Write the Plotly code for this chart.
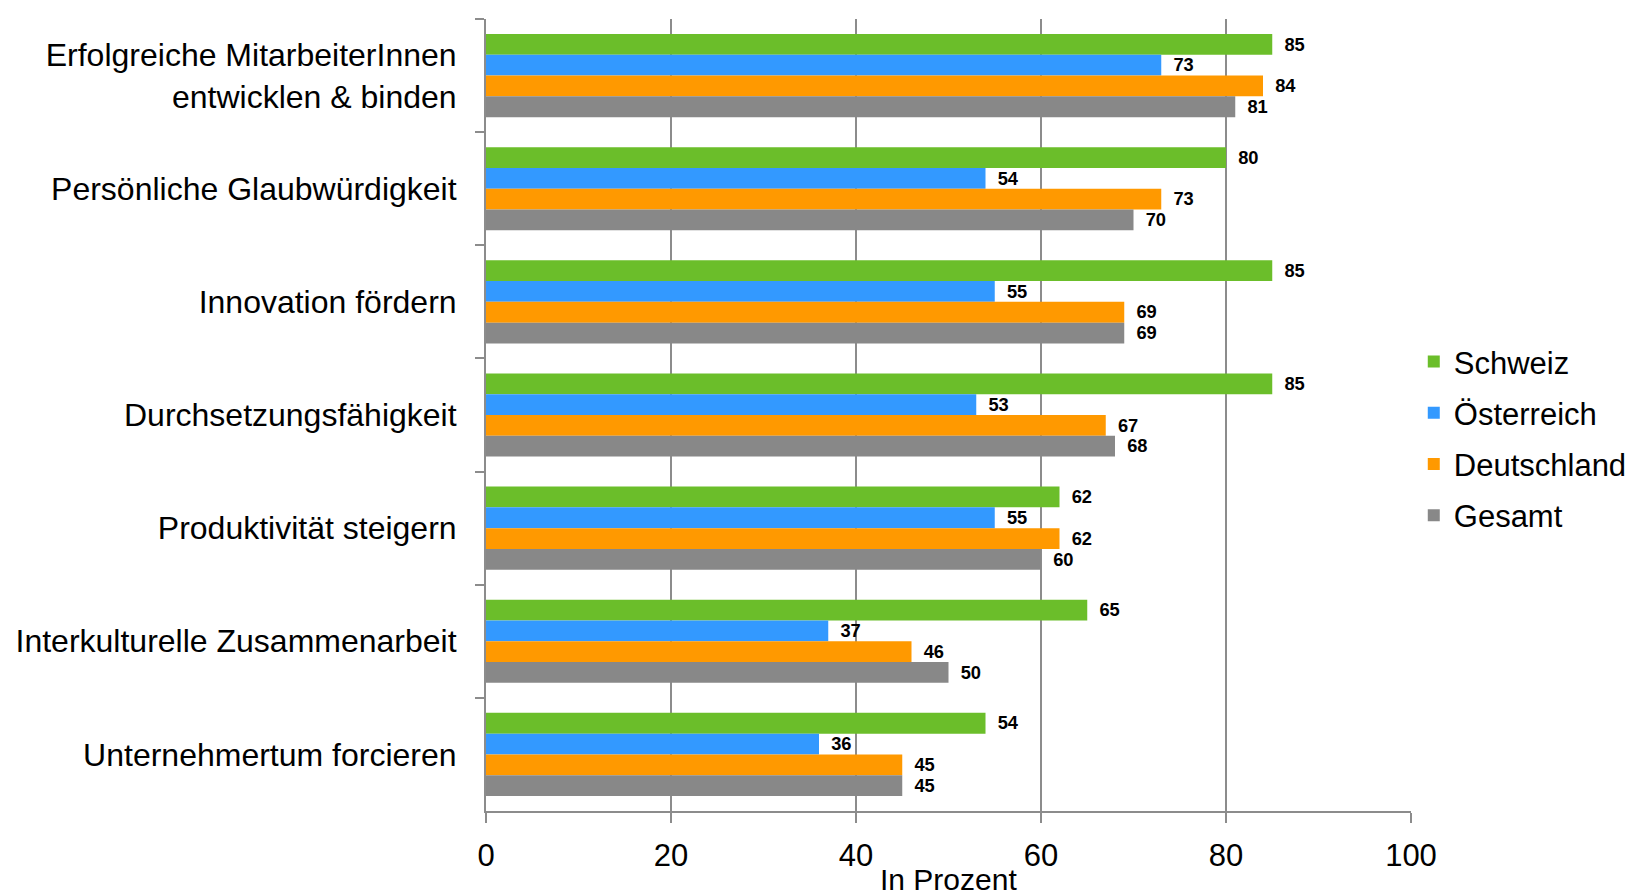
import plotly.graph_objects as go

categories = [
    "Erfolgreiche MitarbeiterInnen<br>entwicklen & binden",
    "Persönliche Glaubwürdigkeit",
    "Innovation fördern",
    "Durchsetzungsfähigkeit",
    "Produktivität steigern",
    "Interkulturelle Zusammenarbeit",
    "Unternehmertum forcieren",
]
schweiz = [85, 80, 85, 85, 62, 65, 54]
oesterreich = [73, 54, 55, 53, 55, 37, 36]
deutschland = [84, 73, 69, 67, 62, 46, 45]
gesamt = [81, 70, 69, 68, 60, 50, 45]

series = [
    ("Schweiz", schweiz, "#6BBE2A"),
    ("Österreich", oesterreich, "#3399FF"),
    ("Deutschland", deutschland, "#FF9900"),
    ("Gesamt", gesamt, "#888888"),
]

x_ticks = [0, 20, 40, 60, 80, 100]
x_title = "In Prozent"

font_family = "Liberation Sans, Arial, sans-serif"
axis_grey = "#8C8C8C"

fig = go.Figure()
for name, vals, color in series:
    fig.add_trace(go.Bar(
        y=categories, x=vals, name=name, orientation="h",
        legendgroup=name,
        marker=dict(color=color, line=dict(width=0)),
        text=vals, texttemplate="\u2002%{x}", textposition="outside",
        textfont=dict(size=22, color="black", family=font_family, weight="bold"),
        cliponaxis=False,
    ))

fig.add_annotation(
    text=x_title, xref="paper", yref="paper", x=0.5, y=0,
    xanchor="center", yanchor="middle", yshift=-68, showarrow=False,
    font=dict(size=30, family=font_family, color="black"),
)

fig.update_layout(
    width=1643, height=894,
    margin=dict(l=478, r=240, t=11, b=91, autoexpand=False),
    paper_bgcolor="white", plot_bgcolor="white",
    barmode="group", bargap=0.265, bargroupgap=0,
    font=dict(family=font_family, color="black"),
    showlegend=True,
    legend=dict(
        x=1.003, y=0.47, xanchor="left", yanchor="middle",
        traceorder="grouped", font=dict(size=31),
        itemwidth=30, tracegroupgap=8,
    ),
    xaxis=dict(
        range=[0, 100], tickvals=x_ticks,
        showgrid=True, gridcolor=axis_grey, gridwidth=2,
        showline=True, linecolor=axis_grey, linewidth=2,
        ticks="outside", ticklen=10, tickwidth=2, tickcolor=axis_grey,
        tickfont=dict(size=31), zeroline=False, ticklabelstandoff=6,
        automargin=False,
    ),
    yaxis=dict(
        autorange="reversed",
        showline=True, linecolor=axis_grey, linewidth=2,
        ticks="outside", ticklen=9, tickwidth=2, tickcolor=axis_grey,
        tickson="boundaries", showgrid=False,
        tickfont=dict(size=32), ticklabelstandoff=21,
        automargin=False,
    ),
)

fig.write_html("out.html")
